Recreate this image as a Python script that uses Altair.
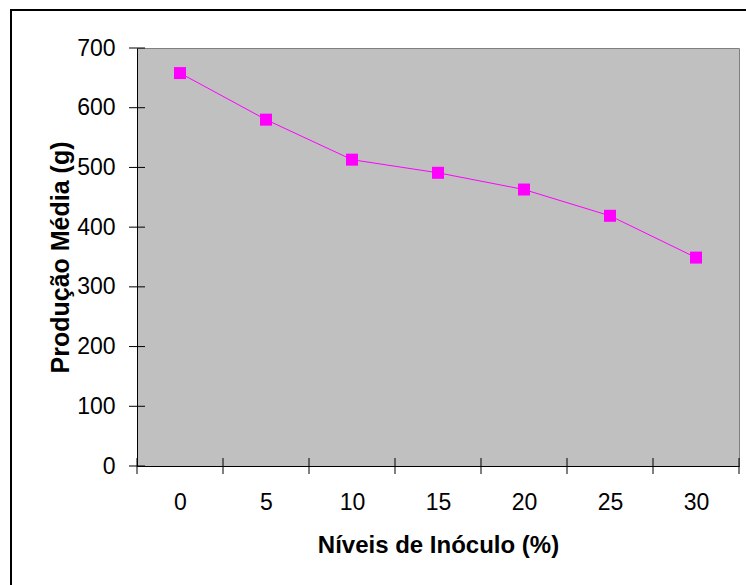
import altair as alt
import pandas as pd

niveis = [0, 5, 10, 15, 20, 25, 30]
producao = [658, 580, 513, 491, 463, 419, 349]
x_bounds = [-2.5, 2.5, 7.5, 12.5, 17.5, 22.5, 27.5, 32.5]
y_ticks = [0, 100, 200, 300, 400, 500, 600, 700]

W, H = 602, 418
FONT = "Liberation Sans"

df = pd.DataFrame({"nivel": niveis, "producao": producao})
df_xb = pd.DataFrame({"b": x_bounds})
df_yt = pd.DataFrame({"t": y_ticks})

xscale = alt.Scale(domain=[-2.5, 32.5], nice=False, zero=False)
yscale = alt.Scale(domain=[0, 700], nice=False)

xaxis = alt.Axis(values=niveis, ticks=False, tickSize=0, grid=False,
                 domainColor="black", domainWidth=1,
                 labelFont=FONT, labelFontSize=23, labelColor="black", labelPadding=25,
                 title="Níveis de Inóculo (%)", titleFont=FONT, titleFontSize=24,
                 titleFontWeight="bold", titleColor="black", titlePadding=19)
yaxis = alt.Axis(values=y_ticks, ticks=False, tickSize=0, grid=False,
                 domainColor="black", domainWidth=1,
                 labelFont=FONT, labelFontSize=23, labelColor="black", labelPadding=22,
                 title="Produção Média (g)", titleFont=FONT, titleFontSize=25,
                 titleFontWeight="bold", titleColor="black", titlePadding=3)

line = alt.Chart(df).mark_line(color="#FF00FF", strokeWidth=1).encode(
    x=alt.X("nivel:Q", scale=xscale, axis=xaxis),
    y=alt.Y("producao:Q", scale=yscale, axis=yaxis),
)
pts = alt.Chart(df).mark_square(color="#FF00FF", size=144, opacity=1, filled=True).encode(
    x=alt.X("nivel:Q", scale=xscale),
    y=alt.Y("producao:Q", scale=yscale),
)
xt = alt.Chart(df_xb).mark_rule(color="black", strokeWidth=1).encode(
    x=alt.X("b:Q", scale=xscale),
    y=alt.value(H - 8), y2=alt.value(H + 8),
)
yt = alt.Chart(df_yt).mark_rule(color="black", strokeWidth=1).encode(
    y=alt.Y("t:Q", scale=yscale),
    x=alt.value(-8), x2=alt.value(8),
)
frame = alt.Chart(df.head(1)).mark_rect(fill=None, stroke="black", strokeWidth=2).encode(
    x=alt.value(-126), x2=alt.value(W + 200),
    y=alt.value(-38), y2=alt.value(H + 300),
)

chart = alt.layer(frame, line, pts, xt, yt).properties(
    width=W, height=H,
    autosize=alt.AutoSizeParams(type="none"),
    padding={"left": 137, "top": 48, "right": 7, "bottom": 119},
    background="white",
).configure_view(fill="#C0C0C0", stroke="#808080", strokeWidth=1)

chart.save("out.html", embed_options={"renderer": "svg", "actions": False})
